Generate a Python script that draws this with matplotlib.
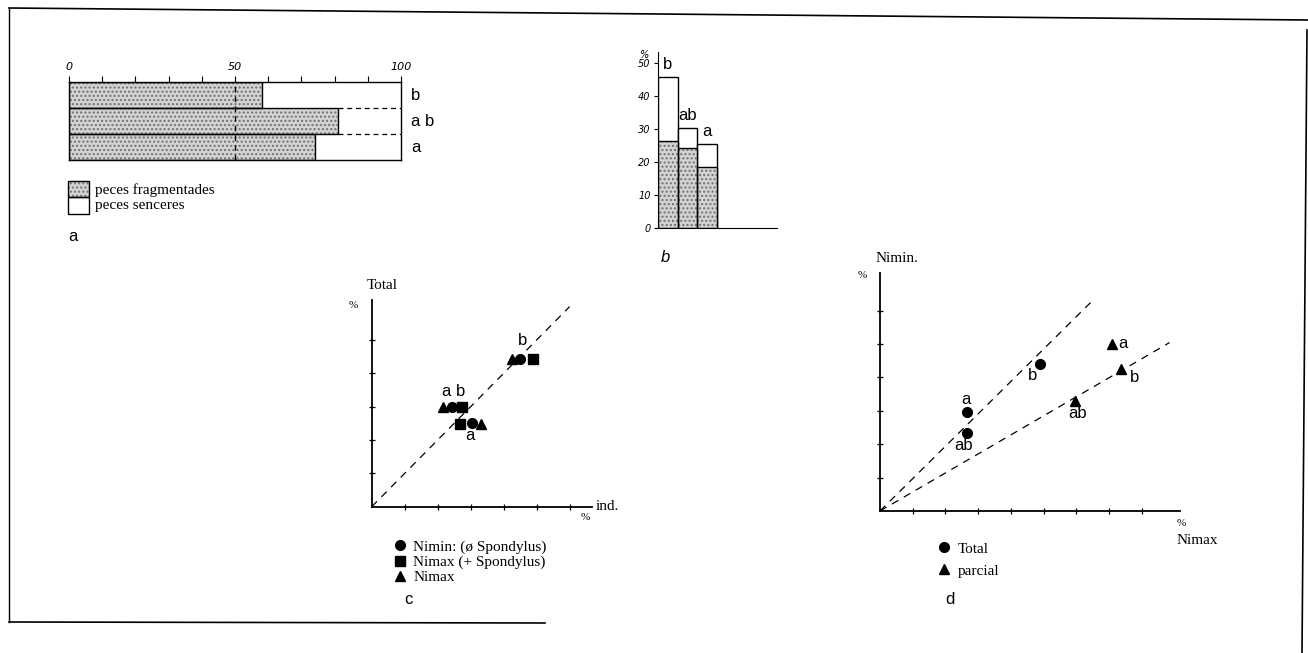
import matplotlib
matplotlib.use("Agg")
import matplotlib.pyplot as plt
from matplotlib.patches import Rectangle
from matplotlib.lines import Line2D

# ---------------- data ----------------
# panel a: % fragmented fish (rest = whole fish), stacked to 100
cats_a = ["b", "a b", "a"]
frag_a = [58, 81, 74]
axis_a_ticks = list(range(0, 101, 10))
axis_a_labels = ["0", "", "", "", "", "50", "", "", "", "", "100"]

# panel b: % values, stippled = fragmented part, bar top = total
cats_b = ["b", "ab", "a"]
frag_b = [26.4, 24.3, 18.6]
total_b = [45.8, 30.4, 25.4]
ticks_b = [0, 10, 20, 30, 40, 50]

# panel c: x = ind. %, y = Total %
groups_c = ["b", "a b", "a"]
nimin_x = [45.0, 24.2, 30.3]
nimin_y = [44.3, 30.0, 25.0]
nimaxsp_x = [48.8, 27.3, 26.8]
nimaxsp_y = [44.3, 30.0, 24.7]
nimax_x = [42.4, 21.5, 33.1]
nimax_y = [44.3, 30.0, 24.7]
diag_c = [0, 60]

# panel d: x = Nimax %, y = Nimin %
total_d_lab = ["a", "ab", "b"]
total_d_x = [26.7, 26.7, 48.9]
total_d_y = [29.8, 23.4, 44.0]
parc_d_lab = ["a", "b", "ab"]
parc_d_x = [70.9, 73.7, 59.6]
parc_d_y = [49.9, 42.4, 33.0]
slope1_d, xend1_d = 0.97, 64.9
slope2_d, xend2_d = 0.57, 88.5

# ---------------- figure ----------------
W, H = 1308, 653
fig = plt.figure(figsize=(W / 100, H / 100), dpi=100)
fig.patch.set_facecolor("white")
SERIF = ["Liberation Serif", "DejaVu Serif"]
SANS = ["Liberation Sans", "DejaVu Sans"]


def fx(x):
    return x / W


def fy(y):
    return 1 - y / H


def px_axes(x0, x1, ytop, ybot):
    return fig.add_axes([x0 / W, 1 - ybot / H, (x1 - x0) / W, (ybot - ytop) / H])


def ftext(x, y, s, **kw):
    fig.text(fx(x), fy(y), s, **kw)


# background frame
bg = fig.add_axes([0, 0, 1, 1], zorder=-5)
bg.set_xlim(0, W)
bg.set_ylim(H, 0)
bg.axis("off")
bg.plot([9, 1308], [8, 20], color="black", lw=1.2)
bg.plot([9, 9], [8, 622], color="black", lw=1)
bg.plot([9, 545], [622, 623], color="black", lw=1.2)
bg.plot([1307, 1302], [30, 653], color="black", lw=1.2)

STIP_FC = "#d3d3d3"
STIP_HC = "#707070"

# ---------------- panel a ----------------
axa = px_axes(69, 401, 82, 160)
ya = list(range(len(cats_a)))
axa.barh(ya, frag_a, height=1, color=STIP_FC, edgecolor=STIP_HC, hatch="....", lw=0)
axa.barh(ya, frag_a, height=1, fill=False, edgecolor="black", lw=1)
axa.set_xlim(0, 100)
axa.set_ylim(len(cats_a) - 0.5, -0.5)
for i in range(len(cats_a) - 1):
    xs = max(frag_a[i], frag_a[i + 1])
    axa.plot([xs, 100], [i + 0.5, i + 0.5], ls=(0, (4, 3)), color="black", lw=0.9)
axa.axvline(50, ls=(0, (4, 3)), color="black", lw=1, zorder=5)
for s in axa.spines.values():
    s.set_linewidth(1)
axa.xaxis.tick_top()
axa.set_xticks(axis_a_ticks)
axa.set_xticklabels(axis_a_labels, fontstyle="italic", fontsize=8)
axa.tick_params(axis="x", direction="out", length=4, width=0.8, pad=3)
axa.set_yticks([])
for i, c in enumerate(cats_a):
    axa.text(103, i, c, fontsize=12, family=SANS, va="center", ha="left")

# legend a
bg.add_patch(Rectangle((68, 181), 21, 16, facecolor=STIP_FC, edgecolor=STIP_HC, hatch="....", lw=0))
bg.add_patch(Rectangle((68, 181), 21, 16, fill=False, edgecolor="black", lw=1))
bg.add_patch(Rectangle((68, 197), 21, 17, fill=False, edgecolor="black", lw=1))
ftext(95, 190, "peces fragmentades", family=SERIF, fontsize=11, va="center")
ftext(95, 205, "peces senceres", family=SERIF, fontsize=11, va="center")
ftext(73, 237, "a", family=SANS, fontsize=12, va="center", ha="center")

# ---------------- panel b ----------------
axb = px_axes(657.7, 777, 52, 228)
xb = list(range(len(cats_b)))
axb.bar(xb, total_b, width=1, align="edge", color="white", edgecolor="black", lw=1)
axb.bar(xb, frag_b, width=1, align="edge", color=STIP_FC, edgecolor=STIP_HC, hatch="....", lw=0)
axb.bar(xb, frag_b, width=1, align="edge", fill=False, edgecolor="black", lw=1)
axb.set_xlim(0, 6.0)
axb.set_ylim(0, 53.3)
axb.spines["top"].set_visible(False)
axb.spines["right"].set_visible(False)
axb.set_xticks([])
axb.set_yticks(ticks_b)
axb.set_yticklabels([str(t) for t in ticks_b], fontstyle="italic", fontsize=7)
axb.tick_params(axis="y", direction="out", length=3, width=0.8, pad=2)
for i, c in enumerate(cats_b):
    axb.annotate(c, (i + 0.5, total_b[i]), xytext=(0, 9), textcoords="offset points",
                 ha="center", va="center", fontsize=12, family=SANS)
ftext(644, 55, "%", fontsize=7, fontstyle="italic", ha="center", va="center")
ftext(665, 258, "b", fontsize=12, fontstyle="italic", family=SANS, ha="center", va="center")

# ---------------- panel c ----------------
axc = px_axes(371.7, 591.7, 300, 506.7)
axc.plot(diag_c, diag_c, ls=(0, (6, 5)), color="black", lw=0.9)
axc.plot(nimin_x, nimin_y, "o", color="black", ms=7, ls="none", zorder=4)
axc.plot(nimaxsp_x, nimaxsp_y, "s", color="black", ms=6.5, ls="none", zorder=4)
axc.plot(nimax_x, nimax_y, "^", color="black", ms=7, ls="none", zorder=4)
offs_c = [(1.7, 13), (1.5, 11), (-1.2, -9)]
for i, g in enumerate(groups_c):
    axc.annotate(g, (nimin_x[i], nimin_y[i]), xytext=offs_c[i], textcoords="offset points",
                 ha="center", va="center", fontsize=12, family=SANS)
axc.set_xlim(0, 66.7)
axc.set_ylim(0, 62)
axc.spines["top"].set_visible(False)
axc.spines["right"].set_visible(False)
for s in ("left", "bottom"):
    axc.spines[s].set_linewidth(1.3)
axc.set_xticks(range(10, 61, 10))
axc.set_yticks(range(10, 51, 10))
axc.set_xticklabels([])
axc.set_yticklabels([])
axc.tick_params(direction="inout", length=5, width=0.9)
ftext(382, 285, "Total", family=SERIF, fontsize=11, ha="center", va="center")
ftext(353, 305, "%", family=SERIF, fontsize=8, ha="center", va="center")
ftext(596, 506, "ind.", family=SERIF, fontsize=11, ha="left", va="center")
ftext(585, 518, "%", family=SERIF, fontsize=8, ha="center", va="center")

leg_c = [
    Line2D([], [], marker="o", color="black", ls="none", ms=7, label="Nimin: (ø Spondylus)"),
    Line2D([], [], marker="s", color="black", ls="none", ms=6.5, label="Nimax (+ Spondylus)"),
    Line2D([], [], marker="^", color="black", ls="none", ms=7, label="Nimax"),
]
fig.legend(handles=leg_c, loc="upper left", bbox_to_anchor=(fx(392), fy(540)),
           frameon=False, handlelength=1.0, handletextpad=0.4, labelspacing=0.1,
           borderpad=0, borderaxespad=0, prop={"family": SERIF, "size": 11})
ftext(408, 600, "c", family=SANS, fontsize=12, ha="center", va="center")

# ---------------- panel d ----------------
axd = px_axes(880, 1180, 273.3, 511)
axd.plot([0, xend1_d], [0, slope1_d * xend1_d], ls=(0, (6, 5)), color="black", lw=0.9)
axd.plot([0, xend2_d], [0, slope2_d * xend2_d], ls=(0, (6, 5)), color="black", lw=0.9)
axd.plot(total_d_x, total_d_y, "o", color="black", ms=7, ls="none", zorder=4)
axd.plot(parc_d_x, parc_d_y, "^", color="black", ms=7, ls="none", zorder=4)
offs_t = [(-1, 9), (-2.4, -9), (-5.5, -8.4)]
for i, g in enumerate(total_d_lab):
    axd.annotate(g, (total_d_x[i], total_d_y[i]), xytext=offs_t[i], textcoords="offset points",
                 ha="center", va="center", fontsize=12, family=SANS)
offs_p = [(7.6, 0.7), (9.4, -5.8), (2, -9)]
for i, g in enumerate(parc_d_lab):
    axd.annotate(g, (parc_d_x[i], parc_d_y[i]), xytext=offs_p[i], textcoords="offset points",
                 ha="center", va="center", fontsize=12, family=SANS)
axd.set_xlim(0, 91.7)
axd.set_ylim(0, 71.2)
axd.spines["top"].set_visible(False)
axd.spines["right"].set_visible(False)
for s in ("left", "bottom"):
    axd.spines[s].set_linewidth(1.3)
axd.set_xticks(range(10, 81, 10))
axd.set_yticks(range(10, 61, 10))
axd.set_xticklabels([])
axd.set_yticklabels([])
axd.tick_params(direction="inout", length=5, width=0.9)
ftext(897, 258, "Nimin.", family=SERIF, fontsize=11, ha="center", va="center")
ftext(862, 276, "%", family=SERIF, fontsize=8, ha="center", va="center")
ftext(1181, 523, "%", family=SERIF, fontsize=8, ha="center", va="center")
ftext(1197, 541, "Nimax", family=SERIF, fontsize=11, ha="center", va="center")

leg_d = [
    Line2D([], [], marker="o", color="black", ls="none", ms=7, label="Total"),
    Line2D([], [], marker="^", color="black", ls="none", ms=7, label="parcial"),
]
fig.legend(handles=leg_d, loc="upper left", bbox_to_anchor=(fx(936), fy(542)),
           frameon=False, handlelength=1.0, handletextpad=0.4, labelspacing=0.55,
           borderpad=0, borderaxespad=0, prop={"family": SERIF, "size": 11})
ftext(950, 600, "d", family=SANS, fontsize=12, ha="center", va="center")

fig.savefig("out.png", dpi=100, facecolor="white")
